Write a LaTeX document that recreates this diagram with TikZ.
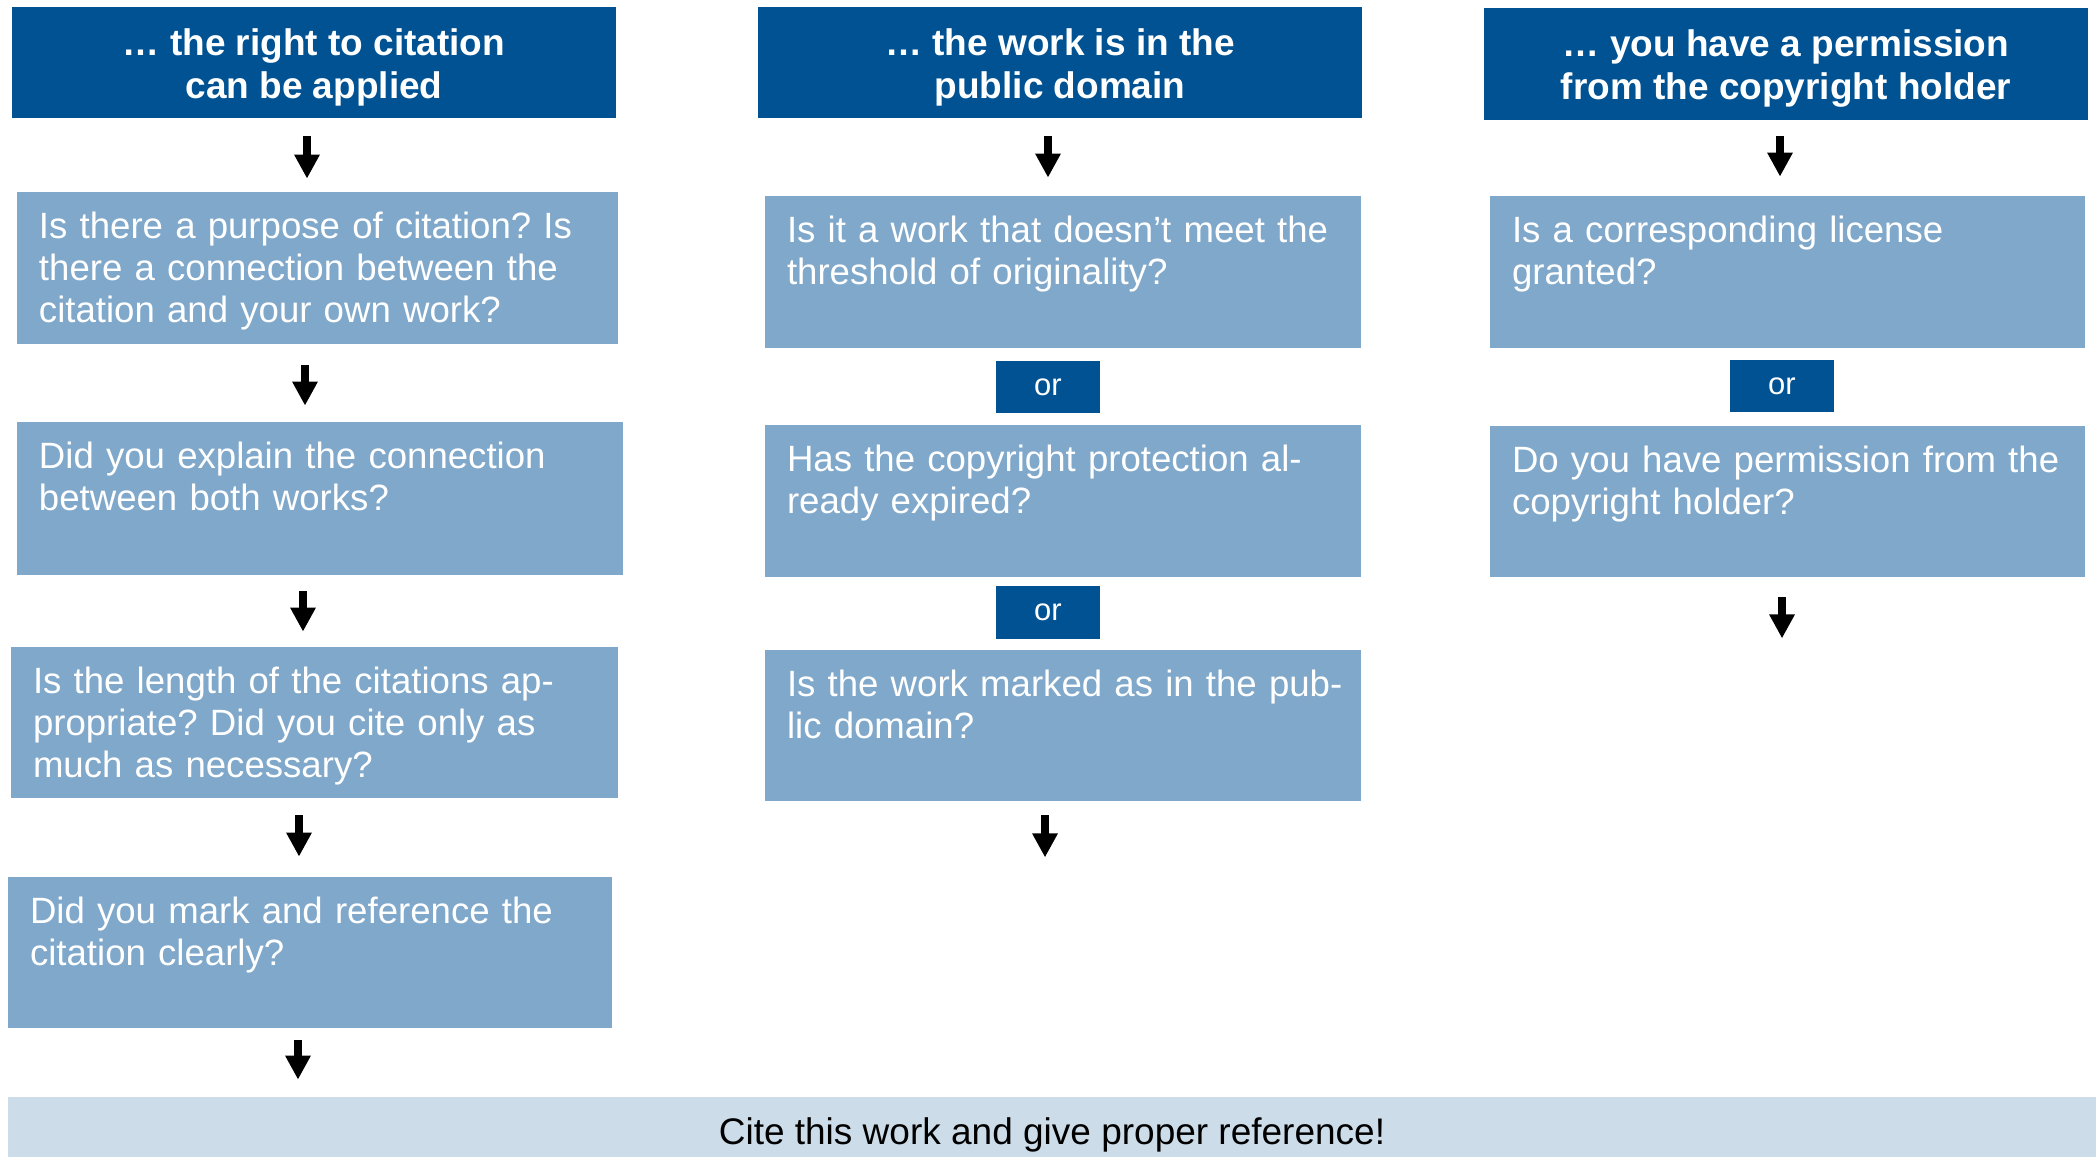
\documentclass[tikz,border=0pt]{standalone}
\usepackage{fontspec}
\setmainfont{Liberation Sans}
\usetikzlibrary{arrows.meta,calc,fit}
\definecolor{dblue}{HTML}{005293}
\definecolor{mblue}{HTML}{80A8CA}
\definecolor{lblue}{HTML}{CCDCE9}
\frenchspacing
\begin{document}
\begin{tikzpicture}[x=0.5pt,y=-0.5pt,
  hdr/.style={fill=dblue, inner sep=0pt},
  hdrtext/.style={text=white, inner sep=0pt, align=center, anchor=center,
    font=\bfseries\fontsize{18.5}{21.5}\selectfont},
  qbox/.style={fill=mblue, inner sep=0pt},
  qtext/.style={text=white, inner sep=0pt, align=left, text width=290pt,
    anchor=base west, font=\fontsize{18.3}{21}\selectfont},
  orbox/.style={fill=dblue, inner sep=0pt},
  ortext/.style={text=white, inner sep=0pt, anchor=center,
    font=\fontsize{15.5}{18}\selectfont},
  bar/.style={fill=lblue, inner sep=0pt},
  bartext/.style={text=black, inner sep=0pt, anchor=center,
    font=\fontsize{18.5}{21}\selectfont},
  arr/.style={line width=4pt, -{Triangle[length=12pt,width=12pt]}}
]
\useasboundingbox (0,0) rectangle (2096,1157);

% ---------- column 1 ----------
\node[hdr, fit={(12,7) (616,118)}] (H1) {};
\node[hdrtext] (tH1) at ($(H1.center)+(0,5)$) {… the right to citation\\can be applied};
\node[qbox, fit={(17,192) (618,344)}] (B1) {};
\node[qbox, fit={(17,422) (623,575)}] (B2) {};
\node[qbox, fit={(11,647) (618,798)}] (B3) {};
\node[qbox, fit={(8,877) (612,1028)}] (B4) {};
\node[qtext] (tB1) at ($(B1.north west)+(22,47)$) {Is there a purpose of citation? Is\\there a connection between the\\citation and your own work?};
\node[qtext] (tB2) at ($(B2.north west)+(22,47)$) {Did you explain the connection\\between both works?};
\node[qtext] (tB3) at ($(B3.north west)+(22,47)$) {Is the length of the citations ap-\\propriate? Did you cite only as\\much as necessary?};
\node[qtext] (tB4) at ($(B4.north west)+(22,47)$) {Did you mark and reference the\\citation clearly?};

% ---------- column 2 ----------
\node[hdr, fit={(758,7) (1362,118)}] (H2) {};
\node[hdrtext] (tH2) at ($(H2.center)+(0,5)$) {… the work is in the\\public domain};
\node[qbox, fit={(765,196) (1361,348)}] (C1) {};
\node[orbox, fit={(996,361) (1100,413)}] (O1) {};
\node[ortext] (tO1) at (O1.center) {or};
\node[qbox, fit={(765,425) (1361,577)}] (C2) {};
\node[orbox, fit={(996,586) (1100,639)}] (O2) {};
\node[ortext] (tO2) at (O2.center) {or};
\node[qbox, fit={(765,650) (1361,801)}] (C3) {};
\node[qtext] (tC1) at ($(C1.north west)+(22,47)$) {Is it a work that doesn’t meet the\\threshold of originality?};
\node[qtext] (tC2) at ($(C2.north west)+(22,47)$) {Has the copyright protection al-\\ready expired?};
\node[qtext] (tC3) at ($(C3.north west)+(22,47)$) {Is the work marked as in the pub-\\lic domain?};

% ---------- column 3 ----------
\node[hdr, fit={(1484,8) (2088,120)}] (H3) {};
\node[hdrtext] (tH3) at ($(H3.center)+(0,5)$) {… you have a permission\\from the copyright holder};
\node[qbox, fit={(1490,196) (2085,348)}] (D1) {};
\node[orbox, fit={(1730,360) (1834,412)}] (O3) {};
\node[ortext] (tO3) at (O3.center) {or};
\node[qbox, fit={(1490,426) (2085,577)}] (D2) {};
\node[qtext] (tD1) at ($(D1.north west)+(22,47)$) {Is a corresponding license\\granted?};
\node[qtext] (tD2) at ($(D2.north west)+(22,47)$) {Do you have permission from the\\copyright holder?};

% ---------- bottom bar ----------
\node[bar, fit={(8,1097) (2096,1157)}] (R) {};
\node[bartext] (tR) at ($(R.center)+(0,8)$) {Cite this work and give proper reference!};

% ---------- arrows ----------
\coordinate (a1) at ($(H1.south)+(-7,0)$);
\draw[arr, shorten <=9pt, shorten >=6.5pt] (a1) -- (a1 |- B1.north);
\coordinate (a2) at ($(B1.south)+(-12.5,0)$);
\draw[arr, shorten <=10.5pt, shorten >=8pt] (a2) -- (a2 |- B2.north);
\coordinate (a3) at ($(B2.south)+(-17,0)$);
\draw[arr, shorten <=8pt, shorten >=7.5pt] (a3) -- (a3 |- B3.north);
\coordinate (a4) at ($(B3.south)+(-15.5,0)$);
\draw[arr, shorten <=8.5pt, shorten >=10pt] (a4) -- (a4 |- B4.north);
\coordinate (a5) at ($(B4.south)+(-12,0)$);
\draw[arr, shorten <=6pt, shorten >=8.5pt] (a5) -- (a5 |- R.north);

\coordinate (c1) at ($(H2.south)+(-12,0)$);
\draw[arr, shorten <=9pt, shorten >=9pt] (c1) -- (c1 |- C1.north);
\coordinate (c3) at ($(C3.south)+(-18,0)$);
\coordinate (c3e) at ($(c3)+(0,56)$);
\draw[arr, shorten <=7pt] (c3) -- (c3e);

\coordinate (d1) at ($(H3.south)+(-6,0)$);
\draw[arr, shorten <=8pt, shorten >=9.5pt] (d1) -- (d1 |- D1.north);
\coordinate (d2) at ($(D2.south)+(-5.5,0)$);
\coordinate (d2e) at ($(d2)+(0,61)$);
\draw[arr, shorten <=10pt] (d2) -- (d2e);
\end{tikzpicture}
\end{document}
